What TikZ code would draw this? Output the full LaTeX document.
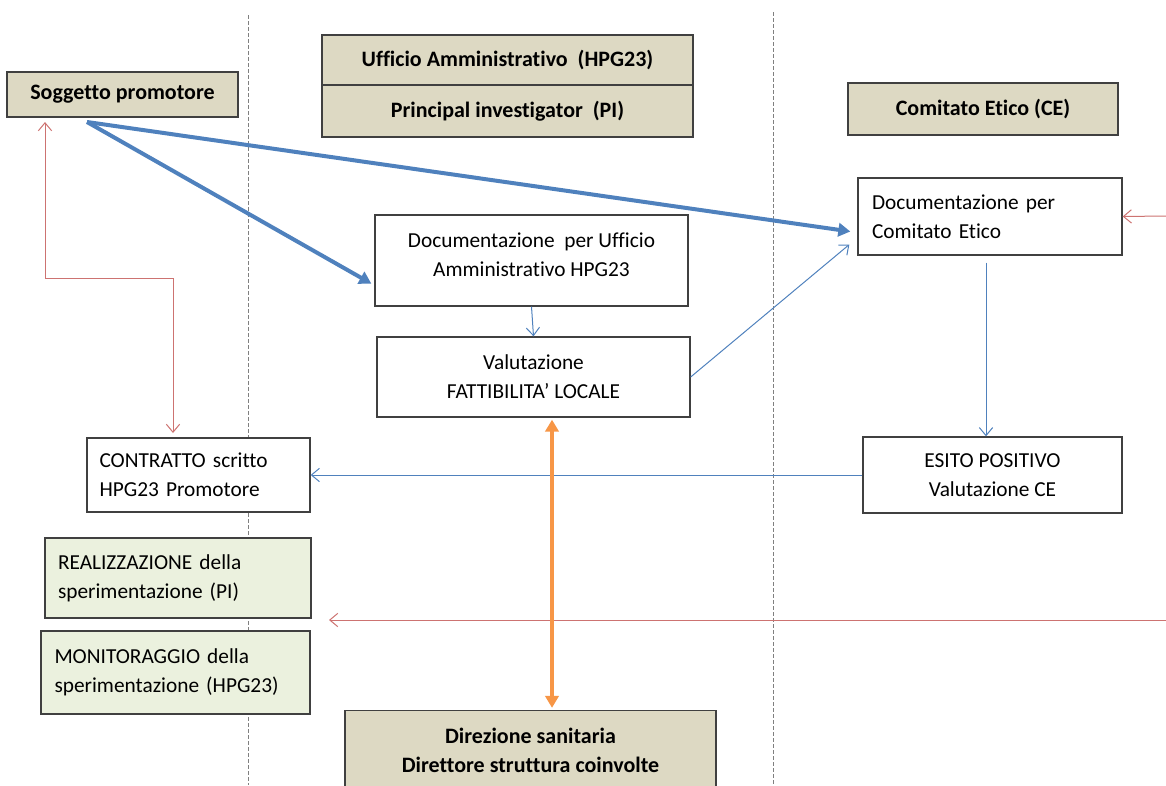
\documentclass[tikz,border=0pt]{standalone}
\usepackage{fontspec}
\setmainfont[Ligatures=NoCommon]{Carlito}
\usetikzlibrary{arrows.meta,calc}
\definecolor{tan}{HTML}{DDD9C3}
\definecolor{lgreen}{HTML}{EBF1DE}
\definecolor{bblue}{HTML}{4F81BD}
\definecolor{rred}{HTML}{C0504D}
\definecolor{oorange}{HTML}{F79646}
\definecolor{bord}{HTML}{404040}
\tikzset{
  px/.style={x=0.75pt,y=-0.75pt},
  box/.style={draw=bord,line width=1pt,fill=white,inner sep=0pt,font=\fontsize{16}{21.75}\selectfont},
  tanbox/.style={box,fill=tan,font=\fontsize{16.5}{21.75}\selectfont\bfseries},
  greenbox/.style={box,fill=lgreen},
  txt/.style={inner sep=0pt,font=\fontsize{16}{21.75}\selectfont},
  sep/.style={draw=gray,line width=0.75pt,dash pattern=on 3pt off 1.5pt},
  thickblue/.style={draw=bblue,line width=3pt,-{Triangle[length=9pt,width=10pt]}},
  thinblue/.style={draw=bblue,line width=0.75pt,-{Straight Barb[length=6pt,width=10pt]}},
  thinred/.style={draw=rred!80,line width=0.75pt,-{Straight Barb[length=6pt,width=10pt]}},
  orangearrow/.style={draw=oorange,line width=3.2pt,{Triangle[length=9pt,width=10pt]}-{Triangle[length=9pt,width=10pt]}}
}
\begin{document}
\begin{tikzpicture}[px]
\useasboundingbox (0,0) rectangle (1166,785);
% separators
\draw[sep] (248,15) -- (248,785);
\draw[sep] (773,12) -- (773,785);
% header boxes
\node[tanbox,minimum width=231*0.75pt,minimum height=45*0.75pt] (sogg) at (122.5,94.5) {Soggetto promotore};
\node[tanbox,minimum width=371*0.75pt,minimum height=50*0.75pt] (uffa) at (507.5,60) {Ufficio Amministrativo\ \ (HPG23)};
\node[tanbox,minimum width=371*0.75pt,minimum height=52*0.75pt] (uffb) at (507.5,111) {Principal investigator\ \ (PI)};
\node[tanbox,minimum width=270*0.75pt,minimum height=52*0.75pt] (ce) at (983,109) {Comitato Etico (CE)};
% process boxes
\node[box,minimum width=264*0.75pt,minimum height=77*0.75pt,align=left,text width=236*0.75pt] (docce) at (990,216.5) {Documentazione per\\Comitato Etico};
\node[box,minimum width=313*0.75pt,minimum height=91*0.75pt] (docuff) at (531.5,260.5) {};
\node[txt,align=center] (docufft) at (531.5,255) {Documentazione\ \ per Ufficio\\Amministrativo HPG23};
\node[box,minimum width=313*0.75pt,minimum height=80*0.75pt,align=center] (valut) at (533.5,377) {Valutazione\\FATTIBILITA’ LOCALE};
\node[box,minimum width=223*0.75pt,minimum height=74*0.75pt,align=left,text width=198*0.75pt] (contr) at (198.5,475) {CONTRATTO scritto\\HPG23 Promotore};
\node[box,minimum width=259*0.75pt,minimum height=76*0.75pt,align=center] (esito) at (992.5,475) {ESITO POSITIVO\\Valutazione CE};
\node[greenbox,minimum width=266*0.75pt,minimum height=80*0.75pt,align=left,text width=240*0.75pt] (real) at (178,578) {REALIZZAZIONE della\\sperimentazione (PI)};
\node[greenbox,minimum width=269*0.75pt,minimum height=83*0.75pt,align=left,text width=242*0.75pt] (monit) at (175.5,672.5) {MONITORAGGIO della\\sperimentazione (HPG23)};
\node[tanbox,minimum width=371*0.75pt,minimum height=79*0.75pt,align=center] (dir) at (530.5,750) {Direzione sanitaria\\Direttore struttura coinvolte};
% coordinates
\coordinate (s0) at (87,122);
\coordinate (redin) at (1166,216);
\coordinate (redr) at (1166,620);
\coordinate (redl) at (329,620);
\coordinate (rtop) at (45,122);
\coordinate (rbot) at (173,433);
% connectors
\draw[thickblue] (s0) -- ($(docuff.south west)!0.25!(docuff.north west)+(-3,0)$);
\draw[thickblue] (s0) -- ($(docce.west)+(-7,15)$);
\draw[thinblue] (docuff.south) -- (valut.north);
\draw[thinblue] (valut.east) -- ($(docce.west)+(-8,28)$);
\draw[thinblue] ($(docce.south)+(-4,7)$) -- ($(esito.north)+(-6.5,0)$);
\draw[thinblue] (esito.west) -- (contr.east);
\draw[thinred] (redin) -- (docce.east);
\draw[thinred,{Straight Barb[length=6pt,width=10pt]}-{Straight Barb[length=6pt,width=10pt]}] (rtop) -- (45,278) -- (173,278) -- (rbot);
\draw[thinred] (redr) -- (redl);
\draw[orangearrow] ($(valut.south)+(18.5,2)$) -- ($(dir.north)+(21.5,-2)$);
\end{tikzpicture}
\end{document}
